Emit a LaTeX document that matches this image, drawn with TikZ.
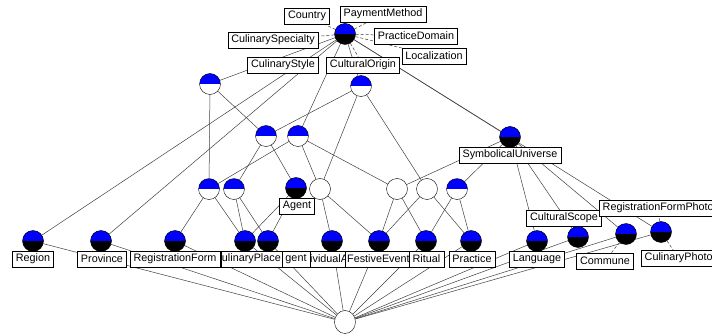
\documentclass[tikz,border=0pt]{standalone}
\usepackage{fontspec}
\usepackage{tikz}
\usetikzlibrary{shapes.geometric}
\newfontfamily\labelfont{Liberation Sans}
\pgfdeclarelayer{back}
\pgfsetlayers{back,main}
\tikzset{circfull/.style = {circle, draw, fill = black, inner sep = 0, minimum size = 21,
                            path picture = {\fill [blue] (path picture bounding box.north west)
                                            rectangle (path picture bounding box.east);}}}
\tikzset{circhalf/.style = {circfull, fill = white}}
\tikzset{circopen/.style = {circle, draw, fill = white, inner sep = 0, minimum size = 21}}
\tikzset{lbl/.style = {draw, fill = white, inner xsep = 3.5, inner ysep = 0, minimum height = 16,
                       font = \labelfont\fontsize{10.8}{12}\selectfont}}
\tikzset{edge/.style = {black!75, line width = 0.5}}
\tikzset{tag/.style = {edge, dash pattern = on 3pt off 2pt}}

\begin{document}
\begin{tikzpicture}[x = 1pt, y = -1pt]
      \useasboundingbox (0, 0) rectangle (712, 334);

      \node [circfull] (top) at (345, 34) {};
      \node [circhalf] (a1) at (210, 84) {};
      \node [circhalf] (a2) at (361, 86) {};
      \node [circhalf] (b1) at (266, 136) {};
      \node [circhalf] (b2) at (298, 136) {};
      \node [circfull] (su) at (510, 137) {};
      \node [circhalf] (c1) at (209, 189) {};
      \node [circhalf] (c2) at (234, 189) {};
      \node [circfull] (ag) at (296, 188) {};
      \node [circopen] (c3) at (320, 189) {};
      \node [circopen] (c4) at (397, 189) {};
      \node [circopen] (c5) at (427, 189) {};
      \node [circhalf] (c6) at (457, 189) {};

      \node [circfull] (reg) at (33, 241) {};
      \node [circfull] (prov) at (101, 241) {};
      \node [circfull] (form) at (175, 241) {};
      \node [circfull] (place) at (245, 241) {};
      \node [circfull] (agx) at (268, 241) {};
      \node [circfull] (ind) at (332, 241) {};
      \node [circfull] (fest) at (379, 241) {};
      \node [circfull] (rit) at (426, 241) {};
      \node [circfull] (prac) at (471, 241) {};
      \node [circfull] (lang) at (537, 241) {};
      \node [circfull] (cs) at (578, 237) {};
      \node [circfull] (co) at (626, 234) {};
      \node [circfull] (cph) at (661, 232) {};

      \node [ellipse, draw, fill = white, inner sep = 0, minimum width = 21, minimum height = 23] (bot) at (345, 322) {};

      \node [lbl] (lcountry) at (307, 16) {Country};
      \node [lbl] (lpay) at (383, 14) {PaymentMethod};
      \node [lbl] (lspec) at (273, 40) {CulinarySpecialty};
      \node [lbl] (lpdom) at (416, 36) {PracticeDomain};
      \node [lbl] (lloc) at (434, 56) {Localization};
      \node [lbl] (lstyle) at (283, 65) {CulinaryStyle};
      \node [lbl] (lorig) at (363, 65) {CulturalOrigin};
      \node [lbl] (lsym) at (510, 155) {SymbolicalUniverse};
      \node [lbl] (lagent) at (297, 206) {Agent};
      \node [lbl] (lreg) at (33, 259) {Region};
      \node [lbl] (lprov) at (102, 259) {Province};
      \node [lbl, anchor = west, inner xsep = 0] (lind) at (310, 259) {ividualA};
      \node [lbl] (lagx) at (296, 259) {gent};
      \node [lbl, anchor = east, inner xsep = 1] (lplace) at (282, 259) {ulinaryPlace};
      \node [lbl] (lform) at (175, 259) {RegistrationForm};
      \node [lbl, anchor = west, inner xsep = 2] (lfest) at (345, 259) {FestiveEvent};
      \node [lbl] (lrit) at (426.5, 259) {Ritual};
      \node [lbl] (lprac) at (472, 259) {Practice};
      \node [lbl] (llang) at (537, 259) {Language};
      \node [lbl] (lcomm) at (605, 261) {Commune};
      \node [lbl, anchor = west] (lphoto) at (641, 258) {CulinaryPhoto};
      \node [lbl] (lscope) at (564, 218) {CulturalScope};
      \node [lbl, anchor = west] (lrfp) at (599, 208) {RegistrationFormPhoto};

      \begin{pgfonlayer}{back}
        \foreach \n in {lcountry, lpay, lspec, lpdom, lloc, lorig} \draw [tag] (top) -- (\n);
        \draw [tag] (co) -- (lcomm);
        \draw [tag] (cph) -- (lphoto);
        \draw [tag] (cph) -- (lrfp);

        \foreach \n in {a1, a2, b2, su, cph, reg, prov} \draw [edge] (top) -- (\n);
        \foreach \n in {b1, c1} \draw [edge] (a1) -- (\n);
        \foreach \n in {b1, c3, c5} \draw [edge] (a2) -- (\n);
        \foreach \n in {c2, ag} \draw [edge] (b1) -- (\n);
        \foreach \n in {c1, c3, c4} \draw [edge] (b2) -- (\n);
        \foreach \n in {c4, c6, lang, cs, co} \draw [edge] (su) -- (\n);
        \foreach \n in {form, place} \draw [edge] (c1) -- (\n);
        \foreach \n in {place, agx} \draw [edge] (c2) -- (\n);
        \foreach \n in {place, agx} \draw [edge] (ag) -- (\n);
        \foreach \n in {ind, fest} \draw [edge] (c3) -- (\n);
        \foreach \n in {fest, rit} \draw [edge] (c4) -- (\n);
        \foreach \n in {fest, prac} \draw [edge] (c5) -- (\n);
        \foreach \n in {rit, prac} \draw [edge] (c6) -- (\n);
        \foreach \n in {reg, prov, form, place, agx, ind, fest, rit, prac, lang, cs, co, cph}
          \draw [edge] (bot) -- (\n);
      \end{pgfonlayer}
    \end{tikzpicture}
\end{document}
